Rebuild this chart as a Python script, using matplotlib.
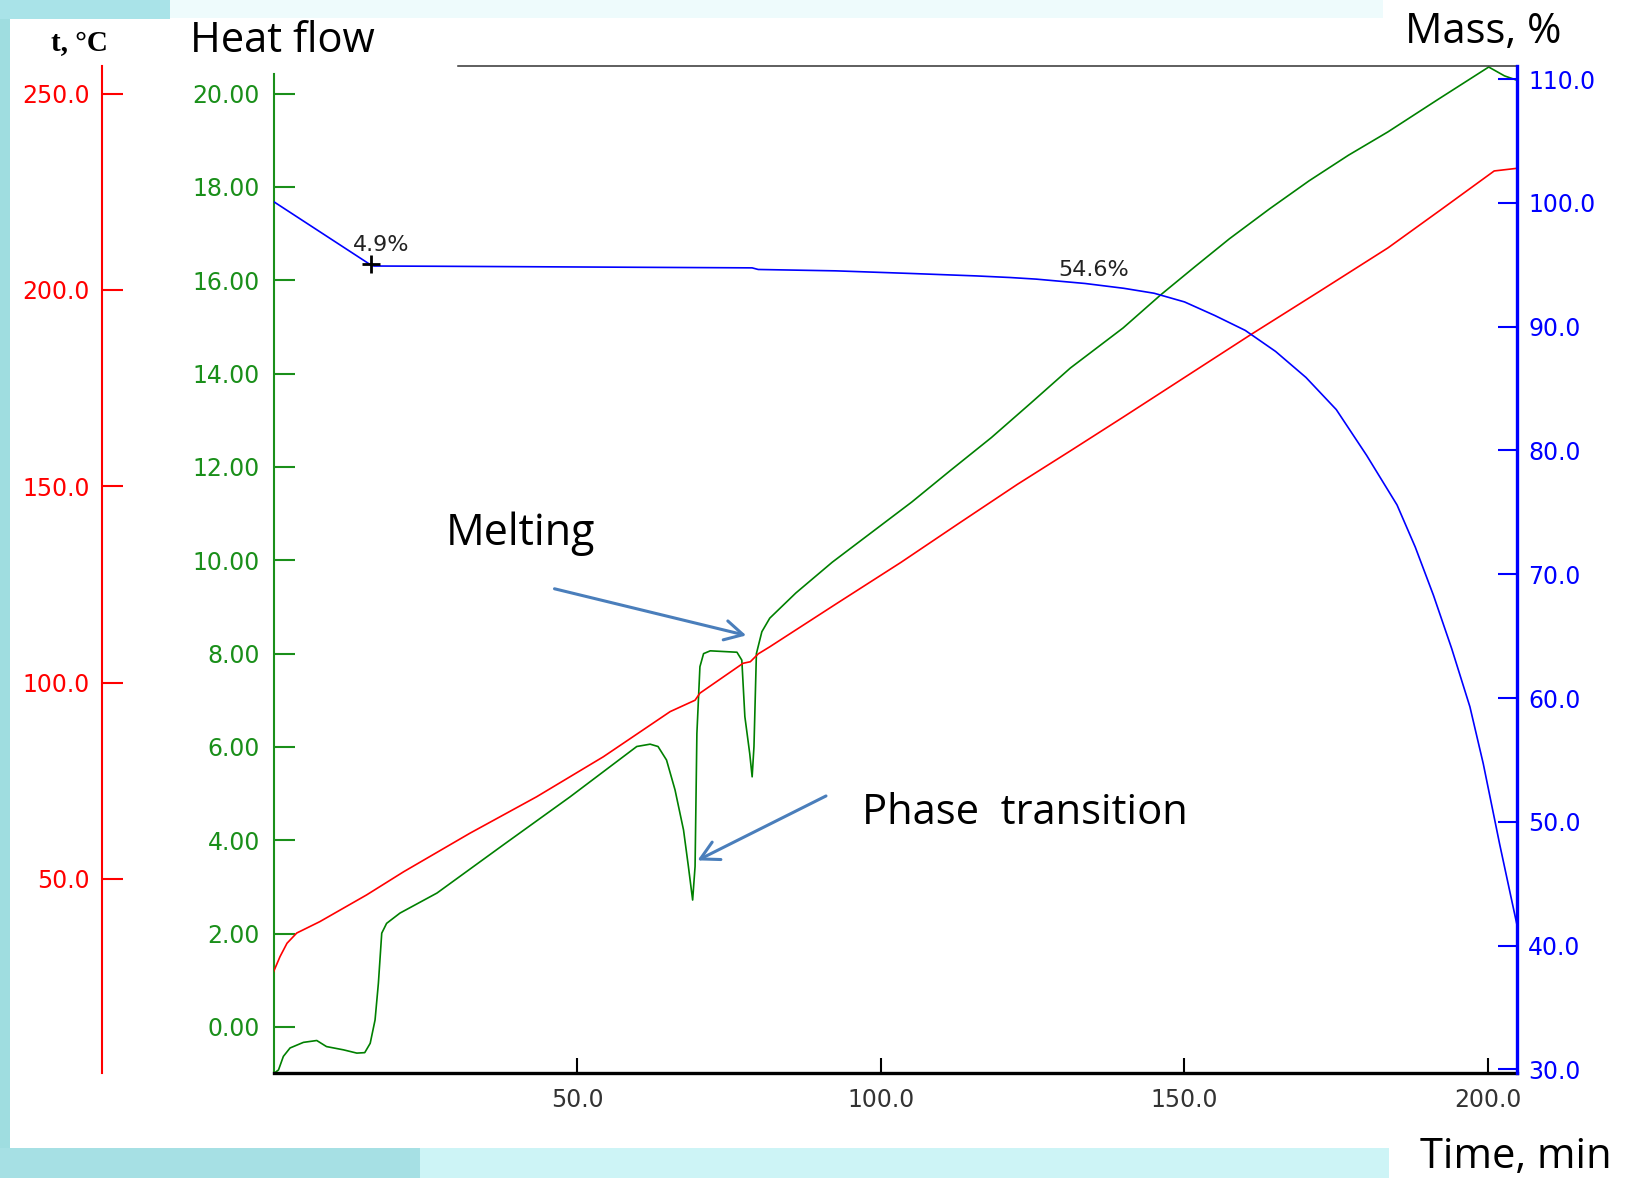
import matplotlib.pyplot as plt
import matplotlib.patches as patches

# heat flow curve (green)
heat_t = [0.2, 0.8, 1.6, 2.7, 4.9, 7.1, 8.7, 11.5, 13.7, 15.0, 15.9, 16.7, 17.25, 17.8,
          18.6, 20.8, 26.9, 37.8, 48.8, 54.3, 59.8, 62.0, 63.3, 64.7, 66.1, 67.5, 68.3,
          69.0, 69.4, 69.7, 70.2, 70.8, 71.9, 76.3, 77.1, 77.6, 78.4, 78.8, 79.1, 79.5,
          80.4, 81.7, 86.0, 92.0, 98.5, 105.1, 111.5, 118.2, 124.7, 131.2, 139.9, 146.1,
          151.8, 157.4, 164.0, 170.5, 177.0, 183.5, 191.8, 200.1, 202.7, 204.9]
heat_v = [-0.98, -0.92, -0.63, -0.45, -0.33, -0.29, -0.42, -0.49, -0.56, -0.55, -0.35,
          0.15, 0.94, 2.01, 2.22, 2.44, 2.87, 3.9, 4.93, 5.47, 6.01, 6.06, 6.01, 5.72,
          5.08, 4.22, 3.44, 2.72, 3.44, 6.29, 7.72, 8.0, 8.06, 8.03, 7.86, 6.65, 5.86,
          5.36, 6.01, 8.0, 8.47, 8.76, 9.3, 9.96, 10.6, 11.25, 11.93, 12.63, 13.37, 14.12,
          14.98, 15.69, 16.3, 16.89, 17.53, 18.13, 18.68, 19.18, 19.88, 20.57, 20.38, 20.28]

# temperature (red)
temp_t = [0, 1.05, 2.2, 3.8, 7.6, 15.3, 21.4, 32.3, 43.3, 54.3, 65.3, 69.4, 70.2, 77.3,
          78.5, 79.8, 81.7, 92.5, 103.3, 112.9, 122.5, 131.2, 139.9, 150.4, 160.9, 172.2,
          183.5, 192.2, 201.0, 204.9]
temp_v = [26.4, 30.2, 33.6, 36.2, 39.1, 45.9, 51.8, 61.6, 70.9, 81.1, 92.6, 95.5, 97.3,
          104.9, 105.3, 107.3, 109.1, 119.9, 130.6, 140.6, 150.5, 159.0, 167.6, 178.1,
          188.6, 199.6, 210.7, 220.4, 230.3, 231.0]

# mass (blue)
mass_t = [0, 15.95, 16.5, 26.8, 78.8, 79.8, 92.5, 104.8, 115.7, 121.3, 125.6, 133.6,
          140, 145, 150, 155, 160, 165, 170, 175, 180, 185, 188, 191, 194, 197, 199.2,
          201.9, 204.7]
mass_v = [100.1, 95.0, 94.9, 94.88, 94.75, 94.62, 94.51, 94.3, 94.1, 93.97, 93.84, 93.49,
          93.1, 92.7, 92.0, 90.9, 89.7, 88.0, 85.9, 83.3, 79.6, 75.6, 72.2, 68.3, 64.0,
          59.3, 54.7, 48.2, 41.8]

time_ticks = [50, 100, 150, 200]
heat_ticks = [0, 2, 4, 6, 8, 10, 12, 14, 16, 18, 20]
temp_ticks = [50, 100, 150, 200, 250]
mass_ticks = [30, 40, 50, 60, 70, 80, 90, 100, 110]

step_t, step_m = 15.95, 95.1
loss1, loss2 = '4.9%', '54.6%'

RED = '#ff0000'
GREEN = '#1a8f1a'
BLUE = '#0000ff'
ARROW = '#4a7ebb'
W, H = 1625, 1178

fig = plt.figure(figsize=(16.25, 11.78), dpi=100)
fig.patch.set_facecolor('white')

# decorative slide background around the plot
for (x0, y0, x1, y1, c) in [(0, 0, 10, 1178, '#9fdde0'),
                            (0, 0, 170, 19, '#a9e3e8'),
                            (170, 0, 1383, 18, '#eefbfc'),
                            (0, 1148, 1389, 1178, '#cdf4f6'),
                            (0, 1148, 420, 1178, '#a6e0e4')]:
    fig.add_artist(patches.Rectangle((x0 / W, 1 - y1 / H), (x1 - x0) / W, (y1 - y0) / H,
                                     transform=fig.transFigure, color=c, zorder=-5, lw=0))

ax = fig.add_axes([0.1684, 0.0895, 0.7653, 0.8542])
ax.set_xlim(0, 204.8)
ax.set_ylim(-0.977, 20.585)
ax.plot(heat_t, heat_v, color='#008000', lw=1.2)

ax.spines['right'].set_visible(False)
ax.spines['left'].set_color(GREEN)
ax.spines['left'].set_linewidth(1.5)
ax.spines['left'].set_bounds(-0.977, 20.41)
ax.spines['bottom'].set_linewidth(2.4)
ax.spines['top'].set_linewidth(1.1)
ax.spines['top'].set_color('#333333')
ax.spines['top'].set_bounds(30.4, 204.8)

ax.set_xticks(time_ticks, labels=[f'{v:.1f}' for v in time_ticks])
ax.set_yticks(heat_ticks, labels=[f'{v:.2f}' for v in heat_ticks])
ax.tick_params(axis='x', direction='in', length=11, width=1.5, color='black',
               labelcolor='#333333', labelsize=17, pad=11)
ax.tick_params(axis='y', direction='in', length=15, width=1.5, colors=GREEN,
               labelsize=17, pad=10)

# temperature axis, moved out to the left
ax_t = ax.twinx()
ax_t.set_ylim(0.66, 256.95)
ax_t.plot(temp_t, temp_v, color=RED, lw=1.2)
ax_t.spines['left'].set_position(('axes', -0.1377))
ax_t.spines['left'].set_visible(True)
ax_t.spines['left'].set_color(RED)
ax_t.spines['left'].set_linewidth(1.5)
for s in ['right', 'top', 'bottom']:
    ax_t.spines[s].set_visible(False)
ax_t.yaxis.set_ticks_position('left')
ax_t.set_yticks(temp_ticks, labels=[f'{v:.1f}' for v in temp_ticks])
ax_t.tick_params(axis='y', direction='in', length=15, width=1.5, colors=RED,
                 labelsize=17, pad=9)

# mass axis on the right
ax_m = ax.twinx()
ax_m.set_ylim(29.75, 111.03)
ax_m.plot(mass_t, mass_v, color=BLUE, lw=1.2)
for s in ['left', 'top', 'bottom']:
    ax_m.spines[s].set_visible(False)
ax_m.spines['right'].set_color(BLUE)
ax_m.spines['right'].set_linewidth(2.4)
ax_m.set_yticks(mass_ticks, labels=[f'{v:.1f}' for v in mass_ticks])
ax_m.tick_params(axis='y', direction='in', length=14, width=1.5, colors=BLUE,
                 labelsize=17, pad=8)

ax_m.plot(step_t, step_m, marker='+', ms=13, mew=2, color='black')
ax_m.text(13.1, 96.15, loss1, fontsize=16, color='#222222', va='baseline')
ax_m.text(129.3, 94.07, loss2, fontsize=16, color='#222222', va='baseline')

# annotations (arrows in heat-flow units, drawn on the top axes)
def hf(v):
    lo, hi = ax_m.get_ylim()
    return lo + (v + 0.977) / 21.562 * (hi - lo)

arr = dict(arrowstyle='->,head_length=1.3,head_width=0.7', color=ARROW, lw=2.2,
           shrinkA=0, shrinkB=0, mutation_scale=10)
ax_m.annotate('', xy=(77.82, hf(8.39)), xytext=(46.25, hf(9.39)), arrowprops=arr)
ax_m.annotate('', xy=(69.8, hf(3.57)), xytext=(90.96, hf(4.95)), arrowprops=arr)
ax.text(28.4, 10.33, 'Melting', fontsize=31, family='Open Sans', va='baseline')
ax.text(96.9, 4.35, 'Phase  transition', fontsize=30, family='Open Sans', va='baseline')

# axis titles
fig.text(51 / W, 1 - 51 / H, 't, °C', fontsize=21, family='Liberation Serif',
         fontweight='bold', va='baseline')
fig.text(190 / W, 1 - 52 / H, 'Heat flow', fontsize=30, family='Open Sans', va='baseline')
fig.text(1405 / W, 1 - 43 / H, 'Mass, %', fontsize=30, family='Open Sans', va='baseline')
fig.text(1420 / W, 1 - 1168 / H, 'Time, min', fontsize=30, family='Open Sans', va='baseline')

fig.savefig('out.png', dpi=100)
